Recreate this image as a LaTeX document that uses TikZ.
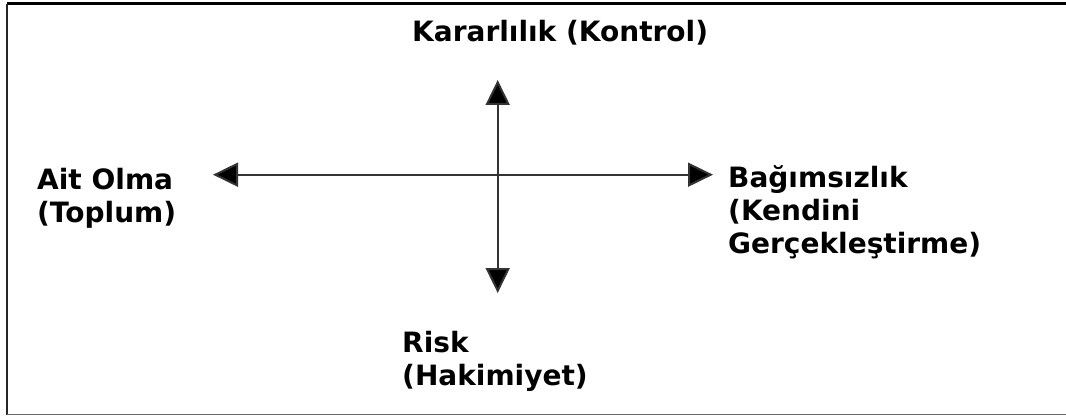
\documentclass[tikz,border=0pt]{standalone}
\usepackage{fontspec}
\setmainfont{DejaVu Sans}
\usepackage{tikz}
\usetikzlibrary{arrows.meta}

\tikzset{
  label/.style={inner sep=0pt, anchor=base west, align=left, font=\bfseries\fontsize{28}{33}\selectfont},
  axis/.style={line width=2pt, draw=black!80, {Triangle[length=25pt,width=24pt,fill=black]}-{Triangle[length=25pt,width=24pt,fill=black]}}
}

\begin{document}
\begin{tikzpicture}[x=1pt, y=1pt]
  \useasboundingbox (0,0) rectangle (1066,416);
  % frame
  \draw[line width=3pt] (7,412) -- (1066,412);
  \draw[line width=2pt, black!85] (7,412) -- (7,1.5);
  \draw[line width=1.5pt, black!60] (7,1.5) -- (1066,1.5);

  \coordinate (west) at (213,241.3);
  \coordinate (east) at (713,241.3);
  \coordinate (north) at (497.7,336);
  \coordinate (south) at (497.7,123);

  % base anchor sits on the last line
  \node (control) at (412,374) [label] {Kararlılık (Kontrol)};
  \node (society) at (37,194) [label] {Ait Olma\\(Toplum)};
  \node (freedom) at (728,163) [label] {Bağımsızlık\\(Kendini\\Gerçekleştirme)};
  \node (risk) at (402,31) [label] {Risk\\(Hakimiyet)};

  \draw[axis] (west) -- (east);
  \draw[axis] (north) -- (south);
\end{tikzpicture}
\end{document}
